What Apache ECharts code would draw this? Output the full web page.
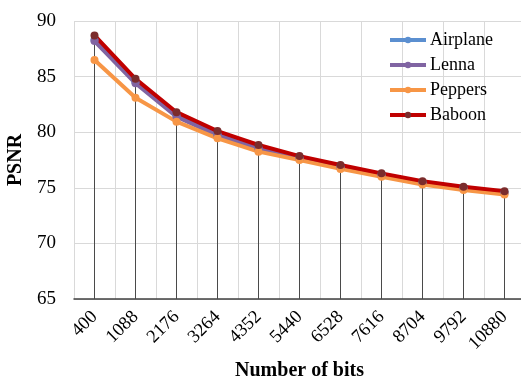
<!DOCTYPE html>
<html><head><meta charset="utf-8">
<script src="https://cdn.jsdelivr.net/npm/echarts@6/dist/echarts.min.js"></script>
<style>html,body{margin:0;padding:0;background:#fff}#c{width:521px;height:377px}</style>
</head><body><div id="c"></div>
<script>
var categories = ['400','1088','2176','3264','4352','5440','6528','7616','8704','9792','10880'];
var airplane = [88.3, 84.5, 81.5, 79.8, 78.6, 77.7, 76.9, 76.2, 75.5, 75.0, 74.6];
var lenna    = [88.2, 84.4, 81.4, 79.7, 78.5, 77.6, 76.8, 76.1, 75.4, 74.9, 74.5];
var peppers  = [86.5, 83.1, 80.95, 79.45, 78.25, 77.5, 76.7, 76.0, 75.3, 74.8, 74.4];
var baboon   = [88.7, 84.8, 81.8, 80.1, 78.85, 77.85, 77.05, 76.3, 75.6, 75.1, 74.7];
var yTicks = {min: 65, max: 90, step: 5};

var dropTop = categories.map(function(c, i){
  return Math.max(airplane[i], lenna[i], peppers[i], baboon[i]);
});

var font = '"Liberation Serif", "Times New Roman", serif';
function lineSeries(name, data, lineColor, markColor) {
  return {
    name: name, type: 'line', data: data, z: 3,
    symbol: 'circle', symbolSize: 8,
    lineStyle: {color: lineColor, width: 4},
    itemStyle: {color: markColor, borderWidth: 0},
    color: lineColor,
    emphasis: {disabled: true}
  };
}
var chart = echarts.init(document.getElementById('c'));
chart.setOption({
  animation: false,
  backgroundColor: '#fff',
  grid: {left: 74, right: -4, top: 21, bottom: 78, containLabel: false, outerBoundsMode: 'none'},
  legend: {
    data: [
      {name: 'Airplane', itemStyle: {color: '#5b8fd0'}, lineStyle: {color: '#5b8fd0', width: 4}},
      {name: 'Lenna', itemStyle: {color: '#8064a2'}, lineStyle: {color: '#8064a2', width: 4}},
      {name: 'Peppers', itemStyle: {color: '#f79646'}, lineStyle: {color: '#f79646', width: 4}},
      {name: 'Baboon', itemStyle: {color: '#7b2c2c'}, lineStyle: {color: '#c00000', width: 4}}
    ],
    orient: 'vertical', left: 383, top: 26,
    itemWidth: 36, itemHeight: 8, itemGap: 7,
    textStyle: {fontFamily: font, fontSize: 18, color: '#000', padding: [0,0,0,-1], height: 18, lineHeight: 18}
  },
  xAxis: {
    type: 'category', data: categories, boundaryGap: true,
    name: 'Number of bits', nameLocation: 'middle', nameGap: 58,
    nameTextStyle: {fontFamily: font, fontSize: 20, fontWeight: 'bold', color: '#000'},
    axisLine: {show: true, lineStyle: {color: '#404040', width: 1.5}},
    axisTick: {show: true, length: 0, interval: 0, alignWithLabel: false},
    axisLabel: {rotate: 45, fontFamily: font, fontSize: 18.5, color: '#000', margin: 15, interval: 0},
    splitLine: {show: true, interval: 0, lineStyle: {color: '#d9d9d9', width: 1}}
  },
  yAxis: {
    type: 'value', min: yTicks.min, max: yTicks.max, interval: yTicks.step,
    name: 'PSNR', nameLocation: 'middle', nameGap: 36, nameRotate: 90,
    nameTextStyle: {fontFamily: font, fontSize: 20, fontWeight: 'bold', color: '#000'},
    axisLine: {show: false}, axisTick: {show: false},
    axisLabel: {fontFamily: font, fontSize: 19, color: '#000', margin: 18},
    splitLine: {show: true, lineStyle: {color: '#d9d9d9', width: 1}}
  },
  series: [
    {type: 'bar', data: dropTop, barWidth: 1, silent: true, z: 1,
     itemStyle: {color: '#4a4a4a'}},
    lineSeries('Airplane', airplane, '#5b8fd0', '#4f81bd'),
    lineSeries('Lenna', lenna, '#8064a2', '#8064a2'),
    lineSeries('Peppers', peppers, '#f79646', '#f79646'),
    lineSeries('Baboon', baboon, '#c00000', '#7b2c2c')
  ]
});
</script></body></html>
